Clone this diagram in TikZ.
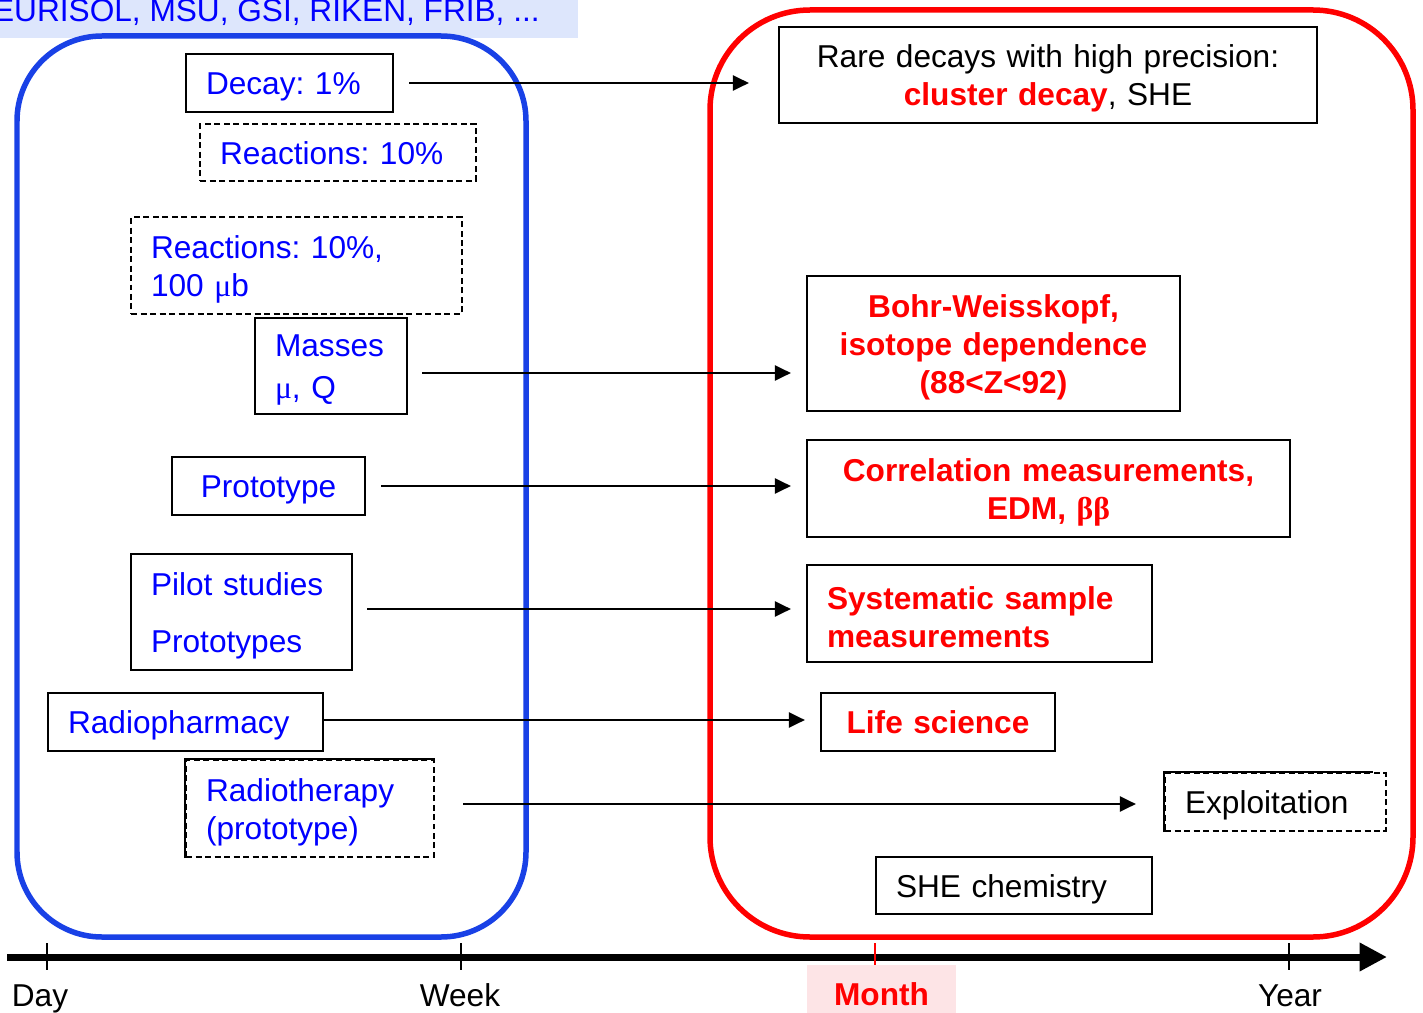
\documentclass[tikz,border=0pt]{standalone}
\usepackage{fontspec}
\setmainfont{Liberation Sans}
\newfontfamily\greekfont{Liberation Serif}
\usetikzlibrary{arrows.meta}
\frenchspacing

\definecolor{textblue}{RGB}{0,0,255}
\definecolor{frameblue}{RGB}{25,65,230}
\definecolor{framered}{RGB}{255,0,0}
\definecolor{labelbg}{RGB}{221,230,252}
\definecolor{monthbg}{RGB}{253,228,230}

\begin{document}
\begin{tikzpicture}[x=0.02cm,y=-0.02cm,>={Triangle[length=0.32cm,width=0.3cm]},
    font=\fontsize{18}{21.6}\selectfont]
  \tikzset{box/.style={draw,line width=0.045cm,inner xsep=0.4cm,inner ysep=0pt,align=left,text height=0.6cm},
    dbox/.style={box,dash pattern=on 0.12cm off 0.07cm},
    cbox/.style={box,align=center},
    oneline/.style={text depth=0.13cm},
    redtext/.style={text=framered,font=\fontsize{18}{21.6}\selectfont\bfseries},
    arrowline/.style={line width=0.045cm},
    tick/.style={line width=0.045cm}}
  \useasboundingbox (0,0) rectangle (1423,1013);

  % facilities label
  \node[fill=labelbg,text=textblue,anchor=south east,inner ysep=0pt,inner xsep=0.76cm,
    text depth=0.32cm] (facilities) at (578,38) {EURISOL, MSU, GSI, RIKEN, FRIB, ...};

  % frames
  \draw[frameblue,line width=0.11cm,rounded corners=1.7cm] (17,36) rectangle (526,937);
  \draw[framered,line width=0.11cm,rounded corners=2cm] (710,10) rectangle (1413,937);

  % short-lived side
  \node[box,oneline,text=textblue,text width=3.34cm,minimum height=1.16cm] (decay) at (289.5,83) {Decay: 1\%};
  \node[dbox,oneline,text=textblue,text width=4.72cm,minimum height=1.14cm] (react) at (338,152.5) {Reactions: 10\%};
  \node[dbox,text=textblue,text width=5.82cm,minimum height=1.94cm] (reactmu) at (296.5,265.5) {Reactions: 10\%,\\100 {\greekfont μ}b};
  \node[box,text=textblue,text width=2.24cm,minimum height=1.92cm] (masses) at (331,366) {Masses\\[0.08cm]{\greekfont μ}, Q};
  \node[cbox,oneline,text=textblue,text width=3.06cm,minimum height=1.16cm] (proto) at (268.5,486) {Prototype};
  \node[box,text=textblue,text width=3.62cm,minimum height=2.32cm] (pilot) at (241.5,612) {Pilot studies\\[0.38cm]Prototypes};
  \node[box,oneline,text=textblue,text width=4.7cm,minimum height=1.16cm] (pharm) at (185.5,722) {Radiopharmacy};
  \node[dbox,text=textblue,text width=4.16cm,minimum height=1.94cm] (therapy) at (310,808.5) {Radiotherapy\\(prototype)};
  \draw[arrowline] (therapy.south west) -- (therapy.north west) -- (therapy.north east);

  % long-lived side
  \node[cbox,text width=9.96cm,minimum height=1.92cm] (rare) at (1048,75)
    {Rare decays with high precision:\\{\color{framered}\bfseries cluster decay}, SHE};
  \node[cbox,redtext,text width=6.66cm,minimum height=2.7cm] (bohr) at (993.5,343.5)
    {Bohr-Weisskopf,\\isotope dependence\\(88<Z<92)};
  \node[cbox,redtext,text width=8.86cm,minimum height=1.94cm] (corr) at (1048.5,488.5)
    {Correlation measurements,\\EDM, {\greekfont\bfseries ββ}};
  \node[box,redtext,text width=6.1cm,minimum height=1.94cm] (syst) at (979.5,613.5)
    {Systematic sample\\measurements};
  \node[cbox,oneline,redtext,text width=3.88cm,minimum height=1.16cm] (life) at (938,722) {Life science};
  \node[dbox,oneline,text width=3.62cm,minimum height=1.16cm] (exploit) at (1275.5,802) {Exploitation};
  \draw[arrowline] (exploit.south west) -- (exploit.north west) -- ([xshift=-0.28cm]exploit.north east);
  \node[box,oneline,text width=4.72cm,minimum height=1.14cm] (shechem) at (1014,885.5) {SHE chemistry};

  % arrows
  \path[->,arrowline] (decay.east) edge[shorten <=0.3cm,shorten >=0.58cm] (decay.east -| rare.west);
  \path[->,arrowline] ([yshift=-0.14cm]masses.east) edge[shorten <=0.28cm,shorten >=0.3cm] ([yshift=-0.14cm]masses.east -| bohr.west);
  \path[->,arrowline] (proto.east) edge[shorten <=0.3cm,shorten >=0.3cm] (proto.east -| corr.west);
  \path[->,arrowline] ([yshift=0.06cm]pilot.east) edge[shorten <=0.28cm,shorten >=0.3cm] ([yshift=0.06cm]pilot.east -| syst.west);
  \path[->,arrowline] ([yshift=0.04cm]pharm.east) edge[shorten >=0.3cm] ([yshift=0.04cm]pharm.east -| life.west);
  \path[->,arrowline] ([yshift=0.09cm]therapy.east) edge[shorten <=0.56cm,shorten >=0.56cm] ([yshift=0.09cm]therapy.east -| exploit.west);

  % time axis
  \coordinate (axstart) at (7,957);
  \coordinate (axend) at (1387,957);
  \draw[line width=0.14cm,-{Triangle[length=0.55cm,width=0.54cm]}] (axstart) -- (axend);
  \foreach \tx in {47,461,1289}
    \draw[tick] (\tx,943) -- (\tx,970);
  \draw[tick,framered] (875,943) -- (875,970);
  \node[anchor=base] (day) at (40,1006) {Day};
  \node[anchor=base] (week) at (460,1006) {Week};
  \node[anchor=base] (year) at (1290,1006) {Year};
  \node[fill=monthbg,redtext,minimum width=2.98cm,text height=0.66cm,inner ysep=0pt,
    minimum height=0.96cm] (month) at (881.5,989) {Month};
\end{tikzpicture}
\end{document}
